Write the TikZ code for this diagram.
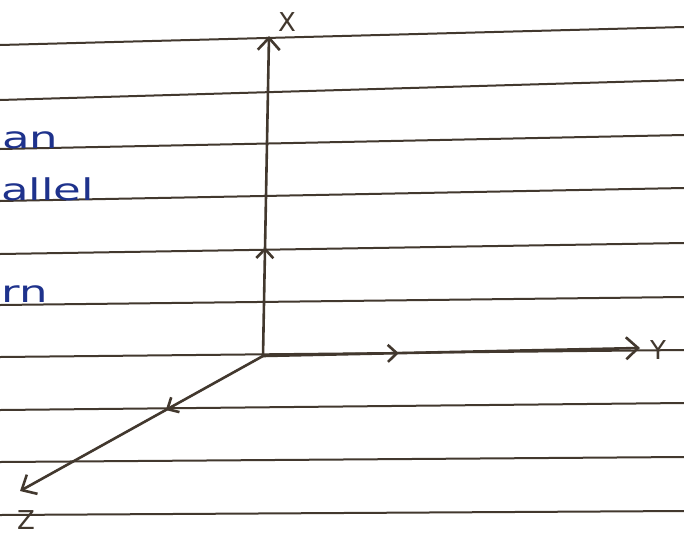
\documentclass[tikz,border=0pt]{standalone}
\usepackage{fontspec}
\setsansfont{DejaVu Sans}
\usetikzlibrary{arrows.meta,decorations.markings}
\definecolor{ink}{RGB}{66,56,46}
\definecolor{pen}{RGB}{30,50,140}

\begin{document}
\begin{tikzpicture}[
    x=1pt,
    y=-1pt,
    rule/.style={draw=ink, line width=2pt},
    axis/.style={draw=ink, line width=2.6pt, -{Straight Barb[length=12pt, width=22pt]}},
    midarrow/.style={postaction={decorate}, decoration={markings, mark=at position #1 with {\arrow{Straight Barb[length=9pt, width=17pt]}}}},
    word/.style={text=pen, font=\sffamily\fontsize{30}{30}\selectfont, anchor=base west, inner sep=0pt, xscale=1.5},
    lab/.style={text=ink, font=\sffamily\fontsize{26}{26}\selectfont, inner sep=0pt}
]
\useasboundingbox (0,0) rectangle (684,541);
\fill[white] (0,0) rectangle (684,541);

% ruled page
\foreach \l/\r in {45/27, 100/80, 149/135, 201/188, 254/243, 305/297, 357/350, 410/403, 462/457, 515/511}
    \draw[rule] (0,\l) -- (684,\r);

% cut-off words
\node[word] (wordan) at (2,148) {an};
\node[word] (wordallel) at (1,200) {allel};
\node[word] (wordrn) at (1,302) {rn};

% axes
\coordinate (origin) at (263,356);
\coordinate (xtip) at (269,36);
\coordinate (ytip) at (640,348);
\coordinate (ztip) at (20,491);
\node[lab] (xlabel) at (287,22) {X};
\node[lab] (ylabel) at (658,350) {Y};
\node[lab] (zlabel) at (26,520) {Z};

\draw[axis, midarrow=0.34] (origin) -- (xtip);
\draw[axis, midarrow=0.36] (origin) -- (ytip);
\draw[axis, midarrow=0.40] (origin) -- (ztip);
\end{tikzpicture}
\end{document}
